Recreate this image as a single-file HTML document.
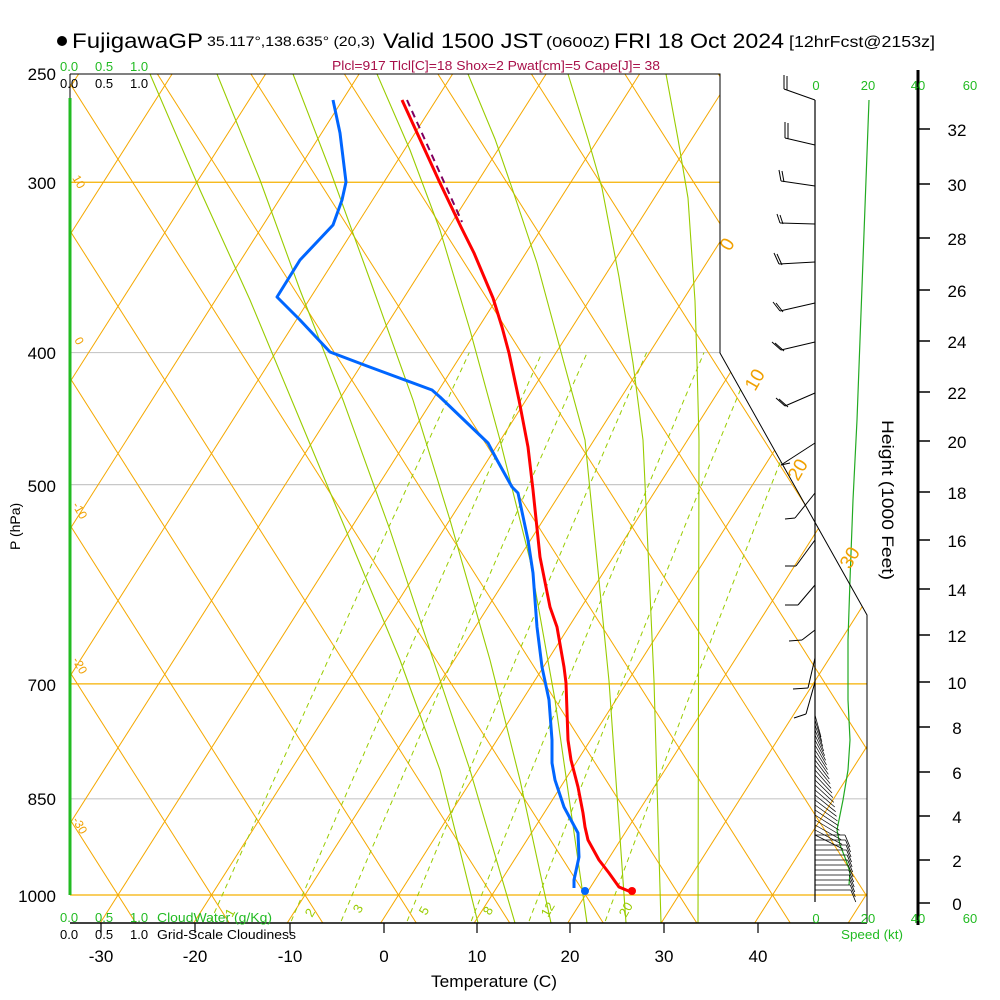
<!DOCTYPE html>
<html><head><meta charset="utf-8"><style>
html,body{margin:0;padding:0;background:#fff;}
svg{display:block;font-family:"Liberation Sans",sans-serif;}
</style></head><body>
<svg id="s" width="1000" height="1000" viewBox="0 0 1000 1000" xmlns="http://www.w3.org/2000/svg">
<defs><clipPath id="cp"><polygon points="70,74 720,74 720,353 867,615 867,923 70,923"/></clipPath></defs>
<g id="grid" clip-path="url(#cp)"></g>
<g id="data"></g>
<polyline points="70,74 720,74 720,353 867,615 867,923" fill="none" stroke="#000" stroke-width="1"/>
<line x1="70" y1="923" x2="867" y2="923" stroke="#000" stroke-width="1.5"/>
<line x1="70" y1="74" x2="70" y2="98" stroke="#000"/>
<line x1="70" y1="98" x2="70" y2="895" stroke="#22bb22" stroke-width="3"/>
<g stroke="#000" stroke-width="1.2">
<line x1="101" y1="923" x2="101" y2="933"/><line x1="195" y1="923" x2="195" y2="933"/><line x1="290" y1="923" x2="290" y2="933"/><line x1="384" y1="923" x2="384" y2="933"/><line x1="477" y1="923" x2="477" y2="933"/><line x1="570" y1="923" x2="570" y2="933"/><line x1="664" y1="923" x2="664" y2="933"/><line x1="758" y1="923" x2="758" y2="933"/>
</g>
<line x1="815" y1="100" x2="815" y2="902" stroke="#000" stroke-width="1.2"/>
<line x1="918" y1="70" x2="918" y2="925" stroke="#000" stroke-width="3"/>
<g id="hticks" stroke="#000" stroke-width="1.5"></g>
<g font-size="17" fill="#000" text-anchor="middle">
<text x="957" y="136">32</text><text x="957" y="191">30</text><text x="957" y="245">28</text><text x="957" y="297">26</text><text x="957" y="348">24</text><text x="957" y="399">22</text><text x="957" y="448">20</text><text x="957" y="499">18</text><text x="957" y="547">16</text><text x="957" y="596">14</text><text x="957" y="642">12</text><text x="957" y="689">10</text><text x="957" y="734">8</text><text x="957" y="779">6</text><text x="957" y="823">4</text><text x="957" y="867">2</text><text x="957" y="910">0</text>
</g>
<text transform="translate(882,420) rotate(90)" font-size="17" fill="#000" textLength="160" lengthAdjust="spacingAndGlyphs">Height (1000 Feet)</text>
<g font-size="13" fill="#22bb22" text-anchor="middle">
<text x="816" y="90">0</text><text x="868" y="90">20</text><text x="918" y="90">40</text><text x="970" y="90">60</text>
<text x="816" y="923">0</text><text x="868" y="923">20</text><text x="918" y="923">40</text><text x="970" y="923">60</text>
<text x="872" y="939" textLength="62" lengthAdjust="spacingAndGlyphs">Speed (kt)</text>
</g>
<circle cx="62" cy="41" r="5" fill="#000"/>
<text x="72" y="48" font-size="21" textLength="131" lengthAdjust="spacingAndGlyphs">FujigawaGP</text>
<text x="207" y="46" font-size="14" textLength="168" lengthAdjust="spacingAndGlyphs">35.117°,138.635° (20,3)</text>
<text x="383" y="48" font-size="21" textLength="160" lengthAdjust="spacingAndGlyphs">Valid 1500 JST</text>
<text x="546" y="47" font-size="15" textLength="64" lengthAdjust="spacingAndGlyphs">(0600Z)</text>
<text x="614" y="48" font-size="21" textLength="170" lengthAdjust="spacingAndGlyphs">FRI 18 Oct 2024</text>
<text x="789" y="47" font-size="16" textLength="146" lengthAdjust="spacingAndGlyphs">[12hrFcst@2153z]</text>
<text x="332" y="70" font-size="13" fill="#a8104a" textLength="328" lengthAdjust="spacingAndGlyphs">Plcl=917 Tlcl[C]=18 Shox=2 Pwat[cm]=5 Cape[J]= 38</text>
<g font-size="13">
<text x="60" y="71" fill="#22bb22">0.0</text><text x="95" y="71" fill="#22bb22">0.5</text><text x="130" y="71" fill="#22bb22">1.0</text>
<text x="60" y="88" fill="#000">0.0</text><text x="95" y="88" fill="#000">0.5</text><text x="130" y="88" fill="#000">1.0</text>
<text x="60" y="922" fill="#22bb22">0.0</text><text x="95" y="922" fill="#22bb22">0.5</text><text x="130" y="922" fill="#22bb22">1.0</text>
<text x="157" y="922" fill="#22bb22" textLength="115" lengthAdjust="spacingAndGlyphs">CloudWater (g/Kg)</text>
<text x="60" y="939" fill="#000">0.0</text><text x="95" y="939" fill="#000">0.5</text><text x="130" y="939" fill="#000">1.0</text>
<text x="157" y="939" fill="#000" textLength="139" lengthAdjust="spacingAndGlyphs">Grid-Scale Cloudiness</text>
</g>
<g font-size="17" text-anchor="middle" fill="#000">
<text x="101" y="962">-30</text><text x="195" y="962">-20</text><text x="290" y="962">-10</text><text x="384" y="962">0</text><text x="477" y="962">10</text><text x="570" y="962">20</text><text x="664" y="962">30</text><text x="758" y="962">40</text>
<text x="494" y="987" textLength="126" lengthAdjust="spacingAndGlyphs">Temperature (C)</text>
</g>
<g font-size="17" text-anchor="end" fill="#000">
<text x="56" y="80">250</text><text x="56" y="189">300</text><text x="56" y="359">400</text><text x="56" y="492">500</text><text x="56" y="691">700</text><text x="56" y="805">850</text><text x="56" y="902">1000</text>
</g>
<text transform="translate(20,550) rotate(-90)" font-size="14" fill="#000">P (hPa)</text>
<g fill="#f0a000" font-size="12">
<text transform="translate(72,178) rotate(60)">10</text>
<text transform="translate(74,340) rotate(60)">0</text>
<text transform="translate(72,505) rotate(60)">-10</text>
<text transform="translate(72,660) rotate(60)">-20</text>
<text transform="translate(72,820) rotate(60)">-30</text>
</g>
<g fill="#f0a000" font-size="19">
<text transform="translate(730,252) rotate(-60)">0</text>
<text transform="translate(755,392) rotate(-60)">10</text>
<text transform="translate(798,482) rotate(-60)">20</text>
<text transform="translate(850,570) rotate(-60)">30</text>
</g>
<g fill="#99cc00" font-size="13">
<text transform="translate(232,918) rotate(-60)">1</text>
<text transform="translate(312,918) rotate(-60)">2</text>
<text transform="translate(360,914) rotate(-60)">3</text>
<text transform="translate(426,916) rotate(-60)">5</text>
<text transform="translate(490,916) rotate(-60)">8</text>
<text transform="translate(548,918) rotate(-60)">12</text>
<text transform="translate(626,918) rotate(-60)">20</text>
</g>
</svg>
<script>
var NS="http://www.w3.org/2000/svg";
function el(p,t,a){var e=document.createElementNS(NS,t);for(var k in a)e.setAttribute(k,a[k]);p.appendChild(e);return e;}
var G=document.getElementById('grid'),D=document.getElementById('data');
function Y(p){return 895-592*Math.log(1000/p);}
function X(T,p){return 383+9.38*T+(895-Y(p))/1.574;}
[[300,'#f5b000'],[700,'#f5b000'],[895,'#f5b000'],[400,'#c8c8c8'],[500,'#c8c8c8'],[850,'#c8c8c8']].forEach(function(a){
 var y=a[0]==895?895:Y(a[0]);el(G,'line',{x1:70,y1:y,x2:870,y2:y,stroke:a[1],'stroke-width':1.2});});
for(var k=-12;k<20;k++){var x0=118+93.5*k;
 el(G,'line',{x1:x0-30/1.574,y1:925,x2:x0+900/1.574,y2:-5,stroke:'#f5a800','stroke-width':1});
 el(G,'line',{x1:x0+30/1.574,y1:925,x2:x0-900/1.574,y2:-5,stroke:'#f5a800','stroke-width':1});}
// moist adiabats (hand traced)
var M=[
 '150,74 200,190 250,300 300,420 350,540 400,660 440,770 478,923',
 '217,74 260,180 300,290 343,400 390,530 430,650 470,770 515,923',
 '293,74 330,170 370,280 413,400 450,520 490,660 520,780 551,923',
 '377,74 410,150 440,230 470,330 500,440 530,560 555,700 587,923',
 '468,74 495,139 512,188 537,263 564,363 585,440 609,681 626,923',
 '568,74 588,139 602,188 619,277 633,363 643,440 654,681 661,923',
 '666,74 678,139 688,198 695,301 697,363 699,440 698,923'];
M.forEach(function(p){el(G,'polyline',{points:p,fill:'none',stroke:'#99cc00','stroke-width':1.1});});
// mixing ratio
[1,2,3,5,8,12,20].forEach(function(w){var pts=[];
 for(var p=1045;p>=400;p-=15){var e=w*p/(622+w),l=Math.log(e/6.112),T=243.5*l/(17.67-l);pts.push(X(T,p).toFixed(1)+','+Y(p).toFixed(1));}
 el(G,'polyline',{points:pts.join(' '),fill:'none',stroke:'#99cc00','stroke-width':1,'stroke-dasharray':'5,4'});});
el(D,'polyline',{points:'407,100 462,222',fill:'none',stroke:'#800060','stroke-width':2,'stroke-dasharray':'7,5'});
el(D,'polyline',{points:'402,100 440,183 461,227 474,253 493,298 502,327 509,353 519,400 528,447 533,490 540,557 550,607 557,627 564,667 566,683 568,740 571,760 578,787 583,813 585,827 588,840 599,860 609,873 619,887 631,892',fill:'none',stroke:'#ff0000','stroke-width':3,'stroke-linejoin':'round'});
el(D,'polyline',{points:'333,100 340,133 346,182 342,200 333,225 300,260 277,297 300,320 330,352 367,366 432,390 440,397 488,443 497,460 512,487 518,493 528,540 533,573 537,627 542,667 549,700 552,740 552,763 555,780 564,807 578,833 579,857 574,880 574,888',fill:'none',stroke:'#0066ff','stroke-width':3,'stroke-linejoin':'round'});
el(D,'circle',{cx:632,cy:891,r:4,fill:'#ff0000'});
el(D,'circle',{cx:585,cy:891,r:4,fill:'#0066ff'});
var H=document.getElementById('hticks');
[129,184,238,290,341,392,441,492,540,589,635,682,727,772,816,860,903].forEach(function(y){el(H,'line',{x1:918,y1:y,x2:930,y2:y});});
el(D,'polyline',{points:'869,100 866,180 863,260 860,340 857,420 853,500 850,580 848,640 848,700 850,740 848,770 843,800 837,830 840,845 846,860 850,872 849,885',fill:'none',stroke:'#22aa22','stroke-width':1.2});
var B=[[100,784,89,0,-14],[145,785,138,0,-16],[186,781,181,-2,-11],[224,780,223,-3,-9],[262,779,264,-5,-11],[303,780,311,-7,-9],[342,781,350,-9,-8],[393,785,406,-9,-8],[443,781,465,9,-2],[493,795,518,-10,1],[540,796,566,-11,0],[585,798,605,-13,0],[630,802,640,-13,1],[658,808,688,-15,1],[682,806,714,-12,4]];
B.forEach(function(b){el(D,'line',{x1:815,y1:b[0],x2:b[1],y2:b[2],stroke:'#000','stroke-width':1});
 el(D,'line',{x1:b[1],y1:b[2],x2:b[1]+b[3],y2:b[2]+b[4],stroke:'#000','stroke-width':1});
 if(b[0]<400)el(D,'line',{x1:b[1]+3,y1:b[2]+1,x2:b[1]+3+b[3],y2:b[2]+1+b[4],stroke:'#000','stroke-width':1});});
// dense lower barbs: diagonal region 720-840
for(var y=715;y<=835;y+=5){var f=(y-715)/120,dx=6+f*22;
 el(D,'line',{x1:815,y1:y,x2:815+dx,y2:y+22-f*8,stroke:'#000','stroke-width':0.7});}
for(var y=835;y<=892;y+=5){var len=30+((y-835)/57)*6;
 el(D,'line',{x1:815,y1:y,x2:815+len,y2:y,stroke:'#000','stroke-width':0.8});
 el(D,'line',{x1:815+len,y1:y,x2:815+len+5,y2:y+12,stroke:'#000','stroke-width':0.8});}
</script>
</body></html>
